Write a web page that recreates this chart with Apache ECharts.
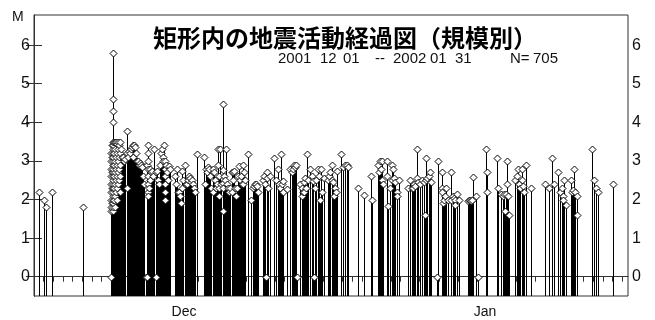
<!DOCTYPE html>
<html><head><meta charset="utf-8">
<script src="https://cdn.jsdelivr.net/npm/echarts@6/dist/echarts.min.js"></script>
<style>html,body{margin:0;padding:0;background:#fff}#c{width:655px;height:320px}</style>
</head><body><div id="c"></div>
<script>
// ---- text ----
const titleText = '矩形内の地震活動経過図（規模別）';
const subTitleTokens = ['2001', '12', '01', '--', '2002', '01', '31', 'N=', '705'];
const yAxisName = 'M';
// ---- axes ----
const yTickValues = [0, 1, 2, 3, 4, 5, 6];
const monthLabels = ['Dec', 'Jan'];
const monthLabelDays = [15.56, 46.77];
const monthStartDays = [0, 31];
const dayTicks = [0,1,2,3,4,5,6,7,8,9,10,11,12,13,14,15,16,17,18,19,20,21,22,23,24,25,26,27,28,29,30,
  31,32,33,34,35,36,37,38,39,40,41,42,43,44,45,46,47,48,49,50,51,52,53,54,55,56,57,58,59,60,61];
// ---- events: [days after 2001-12-01 00:00, magnitude] ----
const eventsEarlyDec = [[0.57,2.2],[1.07,2.0],[1.21,1.8],[1.90,2.2],[5.03,1.8]];
const eventsSwarm = [
 [7.98,0],[7.98,1.7],[7.98,1.8],[7.98,2.0],[7.98,2.2],[7.98,2.4],[7.98,2.6],[7.98,2.8],[7.98,3.0],[7.98,3.2],
 [8.09,1.9],[8.09,2.3],[8.09,2.7],[8.09,3.1],[8.09,3.4],
 [8.19,1.7],[8.19,1.8],[8.19,1.9],[8.19,2.0],[8.19,2.1],[8.19,2.2],[8.19,2.3],[8.19,2.4],[8.19,2.5],[8.19,2.6],
 [8.19,2.7],[8.19,2.8],[8.19,2.9],[8.19,3.0],[8.19,3.1],[8.19,3.2],[8.19,3.3],[8.19,3.4],[8.19,3.5],
 [8.19,4.0],[8.19,4.3],[8.19,4.6],[8.19,5.8],
 [8.30,3.5],[8.30,3.2],[8.30,2.9],[8.30,2.6],[8.30,2.3],[8.30,2.0],
 [8.40,3.5],[8.40,3.3],[8.40,3.0],[8.40,2.7],[8.40,2.4],[8.40,2.1],[8.40,1.8],
 [8.50,3.5],[8.50,3.1],[8.50,2.8],[8.50,2.5],[8.50,2.2],
 [8.61,3.45],[8.61,3.2],[8.61,2.9],[8.61,2.6],[8.61,2.3],[8.61,2.0],
 [8.71,3.5],[8.71,3.3],[8.71,3.0],[8.71,2.7],[8.71,2.4],
 [8.81,3.4],[8.81,3.1],[8.81,2.8],[8.81,2.5],
 [8.92,3.5],[8.92,3.2],[8.92,2.9],[8.92,2.6],[8.92,2.2],
 [9.02,3.3],[9.13,3.1],[9.23,3.1],[9.33,3.0],[9.44,3.05],[9.61,3.78],[9.64,3.2],[9.64,2.3],
 [9.75,3.1],[9.85,3.25],[9.96,3.2],[10.06,3.3],[10.16,3.35],[10.27,3.4],[10.27,3.1],[10.37,3.4],
 [10.47,3.35],[10.58,3.2],[10.68,3.0],[10.78,3.0],[10.89,2.9],[10.99,2.95],[11.10,2.9],[11.20,2.85],
 [11.30,2.6],[11.41,2.4],[11.58,0],[11.69,0]
];
const eventsLateDec = [
 [11.77,2.9],
 [11.85,3.4],[11.85,3.2],[11.85,3.0],[11.85,2.8],[11.85,2.6],[11.85,2.4],[11.85,2.2],[11.85,2.1],[11.93,2.3],
 [12.03,2.8],[12.03,2.5],[12.13,2.7],[12.24,2.75],[12.34,2.6],[12.44,3.3],[12.62,0],[12.65,2.7],[12.76,2.75],[12.86,2.5],
 [12.96,2.4],[13.07,2.9],[13.17,3.2],[13.24,3.3],[13.33,3.1],[13.38,3.0],[13.48,3.4],
 [13.58,3.0],[13.58,2.8],[13.58,2.6],[13.58,2.4],[13.58,2.2],[13.58,2.0],
 [13.69,2.9],[13.79,2.7],[13.90,2.5],[14.03,2.88],[14.10,2.8],
 [14.62,2.6],[14.73,2.4],[14.86,2.8],[14.93,2.2],[15.04,2.2],[15.14,2.1],[15.24,1.9],[15.32,2.75],[15.35,2.3],[15.45,2.5],
 [15.66,2.9],[15.76,2.4],
 [15.87,2.4],[15.97,2.5],[16.07,2.6],[16.18,2.55],[16.28,2.45],[16.38,2.5],[16.49,2.4],[16.59,2.3],[16.70,2.2],[16.87,3.18],
 [17.66,3.1],[17.73,2.4],[17.84,2.8],[17.94,2.7],[18.04,2.85],[18.15,2.8],[18.25,2.6],[18.35,2.3],[18.53,2.8],[18.56,2.2],
 [18.67,2.7],[18.77,2.5],[18.87,2.3],[18.98,2.4],
 [19.11,3.3],[19.11,2.9],[19.18,2.6],[19.18,2.3],[19.18,2.1],[19.29,3.3],[19.39,2.4],
 [19.57,4.47],[19.57,2.77],[19.57,2.43],[19.57,1.69],[19.60,2.3],
 [19.70,2.6],[19.81,2.5],[19.91,3.3],[20.01,2.4],[20.12,2.3],[20.22,2.2],[20.33,2.3],
 [20.50,2.7],[20.53,2.2],[20.64,2.5],[20.67,2.7],[20.74,2.75],[20.84,2.3],[20.95,2.1],[21.05,2.3],
 [21.19,2.6],[21.29,2.88],[21.36,2.5],[21.47,2.6],[21.57,2.4],[21.64,2.9],[21.67,2.4],[21.78,2.7],[21.88,2.5],
 [22.22,3.17],[22.47,2.0],[22.71,2.3],[22.81,2.35],[22.92,2.4],[23.02,2.4],[23.13,2.35],[23.23,2.2],
 [23.75,2.5],[23.85,2.6],[23.95,2.4],[24.06,0],[24.13,2.72],[24.16,2.55],[24.27,2.3],[24.47,2.6],
 [24.92,3.08],[25.10,2.5],[25.33,2.8],[25.41,2.4],[25.51,2.3],[25.61,3.17],[25.72,2.4],[25.79,2.47],[25.85,2.2],
 [26.21,2.27],[26.55,2.8],[26.75,2.7],[26.86,2.8],[26.96,2.9],[27.07,2.85],[27.17,2.9],[27.24,0],
 [27.58,2.4],[27.76,2.3],[27.79,2.1],[27.90,2.2],[27.95,2.45],[28.00,2.2],[28.10,2.55],[28.21,2.3],[28.34,3.17],[28.41,2.5],
 [28.62,2.8],[28.83,2.6],[28.96,2.47],[29.04,0],[29.14,2.3],[29.24,2.5],[29.45,2.8],[29.55,2.6],[29.66,2.0],[29.76,2.8],[29.87,2.2],
 [30.07,2.55],[30.49,2.5],[30.59,2.6],[30.70,2.7],[30.87,2.9],[30.90,2.5]
];
const eventsJan = [
 [31.04,2.45],[31.11,2.1],[31.21,2.3],[31.32,2.2],[31.45,2.75],[31.81,3.17],[32.04,2.85],[32.25,2.9],[32.46,2.9],[32.56,2.85],
 [33.63,2.3],[34.22,2.12],[34.95,2.6],[35.02,2.0],
 [35.67,2.9],[35.78,2.7],[35.88,3.0],[35.98,2.8],[36.06,3.0],[36.09,2.5],[36.22,2.4],[36.57,3.0],[36.61,2.6],[36.74,1.83],
 [36.92,2.3],[37.09,2.9],[37.12,2.5],[37.26,2.8],[37.33,2.55],[37.44,2.45],[37.61,2.2],[37.64,2.1],[37.88,2.5],
 [38.78,2.3],[38.99,2.5],[39.20,2.3],[39.33,2.3],[39.41,2.4],[39.51,2.35],[39.69,3.3],[39.72,2.55],[39.82,2.45],
 [40.03,2.4],[40.24,2.5],[40.44,2.45],[40.55,1.6],[40.62,3.08],[40.65,2.5],[40.75,2.55],[40.96,2.6],[41.07,2.72],[41.12,2.45],
 [41.82,0],[41.93,3.0],[42.28,2.7],[42.28,2.3],[42.31,2.2],[42.44,1.9],[42.52,2.0],[42.62,2.1],[42.72,2.3],[42.96,2.0],
 [43.21,2.7],[43.24,2.0],[43.45,2.1],[43.55,2.05],[43.66,2.0],[43.71,1.85],[43.86,2.15],[44.07,2.0],
 [45.00,1.95],[45.11,2.0],[45.21,2.0],[45.32,1.95],[45.42,2.0],[45.56,2.58],[45.80,2.1],[46.01,0],
 [46.87,3.3],[47.01,2.7],[47.01,2.2],[47.98,3.08],[48.15,2.3],[48.40,2.15],[48.64,2.1],[48.74,2.15],[48.84,1.7],[48.95,2.15],
 [49.02,3.0],[49.08,2.4],[49.15,2.1],[49.29,1.6],
 [49.88,2.5],[50.06,2.6],[50.22,2.8],[50.29,2.4],[50.40,2.3],[50.57,2.8],[50.61,2.5],[50.74,2.35],[50.81,2.2],[50.99,2.9],
 [51.51,2.3],[52.99,2.4],[53.44,2.3],[53.69,3.08],[53.92,2.4],[54.37,2.7],[54.55,2.2],[54.72,2.3],[54.83,2.1],[54.86,2.0],
 [54.99,2.5],[55.17,1.85],[55.69,2.5],[55.79,2.2],[55.89,2.25],[56.00,2.8],[56.10,2.2],[56.28,2.1],[56.31,1.6],
 [57.83,3.3],[58.07,2.5],[58.25,2.3],[58.52,2.2],[60.07,2.4]
];
const events = [].concat(eventsEarlyDec, eventsSwarm, eventsLateDec, eventsJan);

const X_MIN = 0, X_MAX = 61.6, Y_MIN = -0.5, Y_MAX = 6.78;
const AXIS_COLOR = '#333';
const LABEL_FONT = '"Liberation Sans","DejaVu Sans",sans-serif';
const SUB_X = [278, 320, 343, 375, 393, 430, 455, 510, 533];

const chart = echarts.init(document.getElementById('c'), null, {renderer: 'canvas'});

function stemItem(params, api) {
  const p = api.coord([api.value(0), api.value(1)]);
  const b = api.coord([api.value(0), Y_MIN]);
  const x = Math.round(p[0]) + 0.5;
  return {type: 'line', shape: {x1: x, y1: b[1], x2: x, y2: p[1]},
          style: {stroke: '#000', lineWidth: 1}};
}
function markerItem(params, api) {
  const p = api.coord([api.value(0), api.value(1)]);
  const x = Math.round(p[0]) + 0.5, y = Math.round(p[1]) + 0.5, r = 3.5;
  return {type: 'polygon', shape: {points: [[x, y - r], [x + r, y], [x, y + r], [x - r, y]]},
          style: {fill: '#fff', stroke: '#000', lineWidth: 1}};
}

const yAxisCommon = {
  type: 'value', min: Y_MIN, max: Y_MAX, splitLine: {show: false},
  axisLine: {show: true, lineStyle: {color: AXIS_COLOR}},
  axisTick: {show: true, customValues: yTickValues, length: 8, lineStyle: {color: AXIS_COLOR}},
  axisLabel: {customValues: yTickValues, margin: 4, color: '#111', fontSize: 16, fontFamily: LABEL_FONT}
};

const subGraphics = subTitleTokens.map((t, i) => ({
  type: 'text', x: SUB_X[i], y: 59,
  style: {text: t, fill: '#111', align: 'left', verticalAlign: 'middle', font: '15px ' + LABEL_FONT}
}));

chart.setOption({
  animation: false,
  backgroundColor: '#fff',
  grid: {left: 34, right: 27, top: 15, bottom: 24, show: true, borderColor: AXIS_COLOR, borderWidth: 1},
  xAxis: [
    {type: 'value', min: X_MIN, max: X_MAX, position: 'bottom', splitLine: {show: false},
     axisLine: {show: true, lineStyle: {color: AXIS_COLOR}},
     axisTick: {show: true, customValues: dayTicks, length: 5, lineStyle: {color: AXIS_COLOR}},
     axisLabel: {customValues: monthLabelDays, margin: 9, color: '#111', fontSize: 14, fontFamily: LABEL_FONT,
                 formatter: v => monthLabels[monthLabelDays.indexOf(v)]}},
    {type: 'value', min: X_MIN, max: X_MAX, position: 'bottom', splitLine: {show: false},
     axisLine: {show: false},
     axisTick: {show: true, customValues: monthStartDays, length: 11, lineStyle: {color: AXIS_COLOR}},
     axisLabel: {show: false}}
  ],
  yAxis: [
    Object.assign({position: 'left'}, yAxisCommon),
    Object.assign({position: 'right'}, yAxisCommon)
  ],
  graphic: [
    {type: 'text', left: 12, top: 10, style: {text: yAxisName, fill: '#111', font: '14px ' + LABEL_FONT}},
    {type: 'text', x: 345, y: 38, style: {text: titleText, fill: '#000', align: 'center', verticalAlign: 'middle',
      font: 'bold 24px "Noto Sans CJK JP"'}}
  ].concat(subGraphics),
  series: [
    {type: 'custom', name: 'stems', xAxisIndex: 0, yAxisIndex: 0, data: events, renderItem: stemItem, z: 2, clip: true},
    {type: 'custom', name: 'markers', xAxisIndex: 0, yAxisIndex: 0, data: events, renderItem: markerItem, z: 3}
  ]
});
</script></body></html>
